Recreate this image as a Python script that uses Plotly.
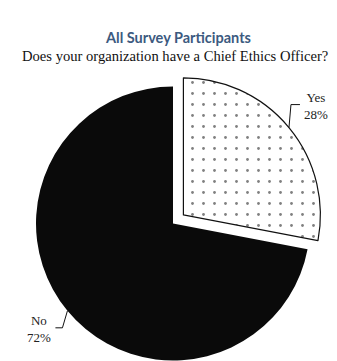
import math
import plotly.graph_objects as go

# ---- data ----
labels = ["Yes", "No"]
values = [28, 72]
pct_labels = ["28%", "72%"]
title_text = "All Survey Participants"
subtitle_text = "Does your organization have a Chief Ethics Officer?"

# ---- layout geometry (pixels) ----
W, H = 337, 361
R = 137.0                 # pie radius
CX, CY = 173.0, 223.5     # center of the main pie (screen coords)
PULL_PX = 13.5            # explode distance of the "Yes" slice

total = float(sum(values))
mids = []
acc = 0.0
for v in values:
    mids.append((acc + v / 2.0) / total * 360.0)
    acc += v


def unit(deg):
    a = math.radians(deg)
    return math.sin(a), -math.cos(a)   # clockwise from 12 o'clock, y down


ux, uy = unit(mids[0])
YCX, YCY = CX + PULL_PX * ux, CY + PULL_PX * uy


def dom(cx, cy):
    return dict(x=[(cx - R) / W, (cx + R) / W],
                y=[(H - (cy + R)) / H, (H - (cy - R)) / H])


def px(x):
    return x / W


def py(y):
    return 1 - y / H


fig = go.Figure()

# main pie: "No" slice (Yes slice transparent)
fig.add_trace(go.Pie(
    labels=labels, values=values, sort=False, direction="clockwise", rotation=0,
    domain=dom(CX, CY), textinfo="none", hoverinfo="label+percent",
    marker=dict(colors=["rgba(0,0,0,0)", "#0a0a0a"], line=dict(width=0)),
    showlegend=False,
))

# exploded pie: "Yes" slice (No slice transparent)
fig.add_trace(go.Pie(
    labels=labels, values=values, sort=False, direction="clockwise", rotation=0,
    domain=dom(YCX, YCY), textinfo="none", hoverinfo="label+percent",
    marker=dict(colors=["white", "rgba(0,0,0,0)"],
                line=dict(color=["#111111", "rgba(0,0,0,0)"], width=[1.2, 0]),
                pattern=dict(shape=[".", ""], fgcolor="#808080", bgcolor="white",
                             size=11, solidity=0.05)),
    showlegend=False,
))

shapes = []
annotations = []

# leader lines + labels
centers = [(YCX, YCY), (CX, CY)]
elbows = [(2.0, -23.0), (-5.0, 17.0)]
tails = [9.0, -7.0]
for i in range(len(values)):
    cx, cy = centers[i]
    dx, dy = unit(mids[i])
    p0 = (cx + R * dx, cy + R * dy)
    p1 = (p0[0] + elbows[i][0], p0[1] + elbows[i][1])
    p2 = (p1[0] + tails[i], p1[1])
    path = "M {:.4f},{:.4f} L {:.4f},{:.4f} L {:.4f},{:.4f}".format(
        px(p0[0]), py(p0[1]), px(p1[0]), py(p1[1]), px(p2[0]), py(p2[1]))
    shapes.append(dict(type="path", xref="paper", yref="paper", path=path,
                       line=dict(color="#111111", width=1)))
    right = tails[i] > 0
    annotations.append(dict(
        xref="paper", yref="paper",
        x=px(p2[0] + (2 if right else -2)), y=py(p2[1] + 1),
        xanchor="left" if right else "right", yanchor="middle",
        text=labels[i] + "<br>" + pct_labels[i], showarrow=False, align="center",
        font=dict(family="Liberation Serif", size=13, color="#222222"),
    ))

annotations.append(dict(
    xref="paper", yref="paper", x=px(178), y=py(37), xanchor="center", yanchor="middle",
    text="<b>" + title_text + "</b>", showarrow=False,
    font=dict(family="Lato", size=14.5, color="#3c5a80"),
))
annotations.append(dict(
    xref="paper", yref="paper", x=px(175), y=py(56), xanchor="center", yanchor="middle",
    text=subtitle_text, showarrow=False,
    font=dict(family="Liberation Serif", size=14.6, color="#111111"),
))

fig.update_layout(
    width=W, height=H,
    margin=dict(l=0, r=0, t=0, b=0),
    paper_bgcolor="white", plot_bgcolor="white",
    shapes=shapes, annotations=annotations,
    showlegend=False,
)

fig.write_html("out.html")
